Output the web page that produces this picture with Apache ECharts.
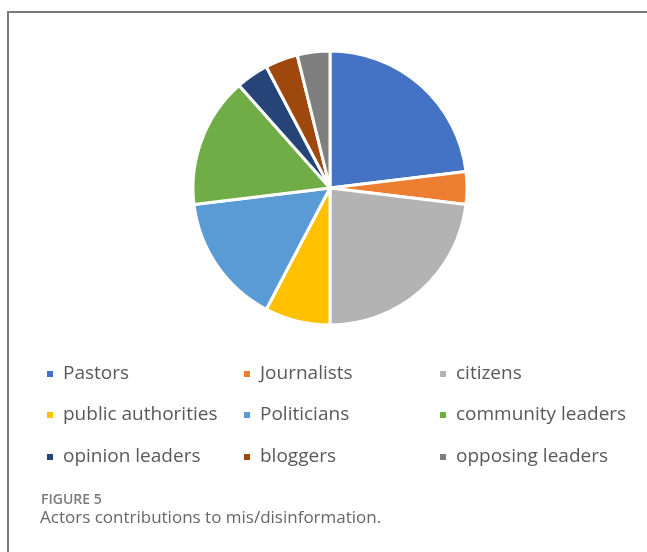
<!DOCTYPE html>
<html>
<head>
<meta charset="utf-8">
<script src="https://cdn.jsdelivr.net/npm/echarts@6/dist/echarts.min.js"></script>
<style>
  html, body { margin: 0; padding: 0; background: #fff; }
  #chart { width: 647px; height: 552px; }
</style>
</head>
<body>
<div id="chart"></div>
<script>
// Actor categories and number of contributions per actor
const actors = ['Pastors', 'Journalists', 'citizens', 'public authorities', 'Politicians',
                'community leaders', 'opinion leaders', 'bloggers', 'opposing leaders'];
const contributions = [6, 1, 6, 2, 4, 4, 1, 1, 1];
const sliceColors = ['#4472C4', '#ED7D31', '#B3B3B3', '#FFC000', '#5B9BD5',
                     '#70AD47', '#264478', '#9E480E', '#7F7F7F'];

const chart = echarts.init(document.getElementById('chart'), null, { renderer: 'canvas' });

// Legend laid out as a 3-column grid, one legend block per entry
const colX = [45, 242, 438];
const rowY = [364, 405, 447];
const legends = actors.map((name, i) => ({
  data: [name],
  left: colX[i % 3],
  top: rowY[Math.floor(i / 3)],
  padding: 0,
  itemWidth: 8,
  itemHeight: 8,
  itemGap: 0,
  icon: 'rect',
  selectedMode: false,
  textStyle: {
    fontFamily: 'Open Sans',
    fontSize: 19,
    color: '#595959',
    lineHeight: 20,
    padding: [0, 0, 0, 4]
  }
}));

chart.setOption({
  animation: false,
  backgroundColor: '#ffffff',
  color: sliceColors,
  legend: legends,
  graphic: [
    // figure frame (top and left rules)
    { type: 'line', shape: { x1: 7, y1: 12, x2: 647, y2: 12 }, style: { stroke: '#7a7a7a', lineWidth: 2 } },
    { type: 'line', shape: { x1: 8, y1: 12, x2: 8, y2: 552 }, style: { stroke: '#7a7a7a', lineWidth: 2 } },
    {
      type: 'text', left: 41, top: 493,
      style: { text: 'FIGURE 5', font: '600 14px "Open Sans"', fill: '#7a7a7a' }
    },
    {
      type: 'text', left: 40, top: 510,
      style: { text: 'Actors contributions to mis/disinformation.', font: '17px "Open Sans"', fill: '#666666' }
    }
  ],
  series: [{
    type: 'pie',
    center: [330, 188],
    radius: 137,
    startAngle: 90,
    clockwise: true,
    label: { show: false },
    labelLine: { show: false },
    emphasis: { disabled: true },
    itemStyle: { borderColor: '#ffffff', borderWidth: 3 },
    data: actors.map((name, i) => ({ name, value: contributions[i] }))
  }]
});
</script>
</body>
</html>
